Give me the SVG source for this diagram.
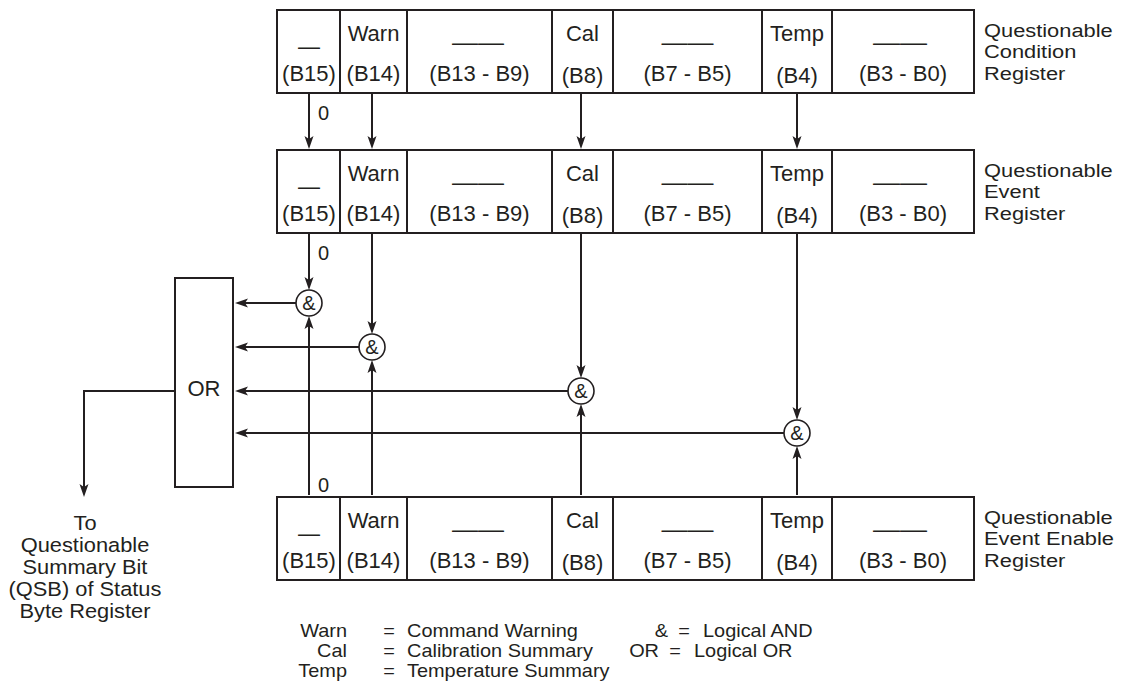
<svg xmlns="http://www.w3.org/2000/svg" width="1125" height="694" viewBox="0 0 1125 694">
<style>
text{font-family:"Liberation Sans",Arial,sans-serif;fill:#231f20}
.c{font-size:22px;text-anchor:middle}
.lab{font-size:19px}
.q{font-size:19.5px;text-anchor:middle}
.leg{font-size:17.8px}
.zero{font-size:20px}
.box{fill:#fff;stroke:#231f20;stroke-width:2}
.ln{fill:none;stroke:#231f20;stroke-width:2}
.ar{fill:none;stroke:#231f20;stroke-width:2;marker-end:url(#ah)}
.g{fill:#fff;stroke:#231f20;stroke-width:1.6}
</style>
<defs>
<marker id="ah" viewBox="-14 -5 15 10" refX="-8" refY="0" markerWidth="15" markerHeight="10" markerUnits="userSpaceOnUse" orient="auto">
<path d="M0,0 L-13,-4.5 L-10,0 L-13,4.5 Z" fill="#231f20"/>
</marker>
<g id="cells">
<rect class="box" x="277" y="0" width="697" height="83"/>
<path class="ln" d="M340,0V83M407,0V83M552,0V83M613,0V83M762,0V83M832,0V83"/>
<text class="c" x="309" y="44">—</text>
<text class="c" x="309" y="71">(B15)</text>
<text class="c" x="373.5" y="31">Warn</text>
<text class="c" x="373.5" y="71">(B14)</text>
<text class="c" x="478" y="40" textLength="52" lengthAdjust="spacingAndGlyphs">——</text>
<text class="c" x="479.5" y="71">(B13 - B9)</text>
<text class="c" x="582.5" y="31">Cal</text>
<text class="c" x="582.5" y="73">(B8)</text>
<text class="c" x="687.5" y="40" textLength="52" lengthAdjust="spacingAndGlyphs">——</text>
<text class="c" x="687.5" y="71">(B7 - B5)</text>
<text class="c" x="797" y="31">Temp</text>
<text class="c" x="797" y="73">(B4)</text>
<text class="c" x="900" y="40" textLength="54" lengthAdjust="spacingAndGlyphs">——</text>
<text class="c" x="903" y="71">(B3 - B0)</text>
</g>
</defs>

<g id="condition-register">
<use href="#cells" x="0" y="10"/>
<text class="lab" x="984" y="37" transform="matrix(1.15,0,0,1,-147.6,0)">Questionable<tspan x="984" dy="21.5">Condition</tspan><tspan x="984" dy="21.5">Register</tspan></text>
</g>

<g id="event-register">
<use href="#cells" x="0" y="150"/>
<text class="lab" x="984" y="177" transform="matrix(1.15,0,0,1,-147.6,0)">Questionable<tspan x="984" dy="21.5">Event</tspan><tspan x="984" dy="21.5">Register</tspan></text>
</g>

<g id="enable-register">
<use href="#cells" x="0" y="497"/>
<text class="lab" x="984" y="524" transform="matrix(1.15,0,0,1,-147.6,0)">Questionable<tspan x="984" dy="21.5">Event Enable</tspan><tspan x="984" dy="21.5">Register</tspan></text>
</g>

<g id="or-gate">
<rect class="box" x="175" y="278" width="58" height="209"/>
<text class="c" x="204" y="396">OR</text>
</g>

<g id="and1"><circle class="g" cx="309" cy="303" r="13"/><text class="c" x="309" y="310" style="font-size:20px">&amp;</text></g>
<g id="and2"><circle class="g" cx="372" cy="347" r="13"/><text class="c" x="372" y="354" style="font-size:20px">&amp;</text></g>
<g id="and3"><circle class="g" cx="581" cy="391" r="13"/><text class="c" x="581" y="398" style="font-size:20px">&amp;</text></g>
<g id="and4"><circle class="g" cx="797" cy="433" r="13"/><text class="c" x="797" y="440" style="font-size:20px">&amp;</text></g>

<g id="connectors">
<line class="ar" x1="309" y1="94" x2="309" y2="141"/>
<line class="ar" x1="372" y1="94" x2="372" y2="141"/>
<line class="ar" x1="581" y1="94" x2="581" y2="141"/>
<line class="ar" x1="797" y1="94" x2="797" y2="141"/>
<line class="ar" x1="309" y1="234" x2="309" y2="282"/>
<line class="ar" x1="372" y1="234" x2="372" y2="326"/>
<line class="ar" x1="581" y1="234" x2="581" y2="370"/>
<line class="ar" x1="797" y1="234" x2="797" y2="412"/>
<line class="ar" x1="309" y1="495" x2="309" y2="324"/>
<line class="ar" x1="372" y1="495" x2="372" y2="368"/>
<line class="ar" x1="581" y1="495" x2="581" y2="412"/>
<line class="ar" x1="797" y1="495" x2="797" y2="454"/>
<line class="ar" x1="296" y1="303" x2="243" y2="303"/>
<line class="ar" x1="359" y1="347" x2="243" y2="347"/>
<line class="ar" x1="568" y1="391" x2="243" y2="391"/>
<line class="ar" x1="784" y1="433" x2="243" y2="433"/>
<polyline class="ar" points="175,391 84,391 84,489"/>
<text class="zero" x="318" y="120">0</text>
<text class="zero" x="318" y="260">0</text>
<text class="zero" x="318" y="492">0</text>
</g>

<g id="qsb-label">
<text class="q" x="85" y="530" transform="matrix(1.12,0,0,1,-10.2,0)">To<tspan x="85" dy="22">Questionable</tspan><tspan x="85" dy="22">Summary Bit</tspan><tspan x="85" dy="22">(QSB) of Status</tspan><tspan x="85" dy="22">Byte Register</tspan></text>
</g>

<g id="legend">
<text class="leg" x="347" y="637" text-anchor="end" transform="matrix(1.12,0,0,1,-41.64,0)">Warn<tspan x="347" dy="20">Cal</tspan><tspan x="347" dy="20">Temp</tspan></text>
<text class="leg" x="389" y="637" text-anchor="middle" transform="matrix(1.12,0,0,1,-46.68,0)">=<tspan x="389" dy="20">=</tspan><tspan x="389" dy="20">=</tspan></text>
<text class="leg" x="407" y="637" transform="matrix(1.12,0,0,1,-48.84,0)">Command Warning<tspan x="407" dy="20">Calibration Summary</tspan><tspan x="407" dy="20">Temperature Summary</tspan></text>
<text class="leg" x="668" y="637" text-anchor="end" transform="matrix(1.12,0,0,1,-80.16,0)">&amp;</text>
<text class="leg" x="684" y="637" text-anchor="middle" transform="matrix(1.12,0,0,1,-82.08,0)">=</text>
<text class="leg" x="703" y="637" transform="matrix(1.12,0,0,1,-84.36,0)">Logical AND</text>
<text class="leg" x="659" y="657" text-anchor="end" transform="matrix(1.12,0,0,1,-79.08,0)">OR</text>
<text class="leg" x="675" y="657" text-anchor="middle" transform="matrix(1.12,0,0,1,-81,0)">=</text>
<text class="leg" x="694" y="657" transform="matrix(1.12,0,0,1,-83.28,0)">Logical OR</text>
</g>
</svg>
